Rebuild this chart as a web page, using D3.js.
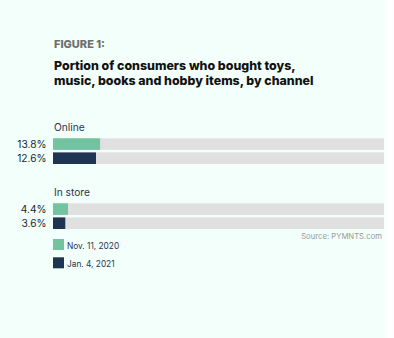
<!DOCTYPE html>
<html>
<head>
<meta charset="utf-8">
<script src="https://cdn.jsdelivr.net/npm/d3@7"></script>
<style>
  html, body { margin: 0; padding: 0; background: #fff; }
  svg { display: block; font-family: Inter, "Open Sans", sans-serif; }
</style>
</head>
<body>
<div id="chart"></div>
<script>
// data
const channels = ["Online", "In store"];
const seriesNames = ["Nov. 11, 2020", "Jan. 4, 2021"];
const nov2020 = [13.8, 4.4];
const jan2021 = [12.6, 3.6];

const W = 394, H = 338;

const svg = d3.select("#chart")
  .append("svg")
  .attr("width", W)
  .attr("height", H);

// mint panel
svg.append("rect")
  .attr("x", 0).attr("y", 0)
  .attr("width", 385).attr("height", H)
  .attr("fill", "#f2fffa");

const color = d3.scaleOrdinal()
  .domain(seriesNames)
  .range(["#72c3a0", "#1f3352"]);

const x = d3.scaleLinear().domain([0, 97]).range([53, 384]);

// group rows
const groupY = d3.scalePoint().domain(channels).range([123, 188]);
const barY = d3.scaleBand().domain(seriesNames).range([15.3, 41]).paddingInner(0.18);

svg.append("text")
  .attr("x", 54).attr("y", 48)
  .attr("fill", "#6f6f6f")
  .attr("font-size", 11)
  .attr("font-weight", 800)
  .text("FIGURE 1:");

svg.append("text")
  .attr("fill", "#111")
  .attr("font-size", 12.4)
  .attr("font-weight", 800)
  .selectAll("tspan")
  .data(["Portion of consumers who bought toys,", "music, books and hobby items, by channel"])
  .join("tspan")
  .attr("x", 54)
  .attr("y", (d, i) => 69.5 + i * 15)
  .text(d => d);

const rows = channels.map((c, i) => ({
  channel: c,
  values: [
    {series: seriesNames[0], value: nov2020[i]},
    {series: seriesNames[1], value: jan2021[i]}
  ]
}));

const grp = svg.selectAll(".grp")
  .data(rows)
  .join("g")
  .attr("class", "grp")
  .attr("transform", d => `translate(0,${groupY(d.channel)})`);

grp.append("text")
  .attr("x", 54).attr("y", 8)
  .attr("fill", "#2a3350")
  .attr("font-size", 10.2)
  .text(d => d.channel);

const bar = grp.selectAll(".bar")
  .data(d => d.values)
  .join("g")
  .attr("class", "bar")
  .attr("transform", d => `translate(0,${barY(d.series)})`);

bar.append("rect")
  .attr("x", x(0))
  .attr("width", x(97) - x(0))
  .attr("height", barY.bandwidth())
  .attr("fill", "#e0e0e0");

bar.append("rect")
  .attr("x", x(0))
  .attr("width", d => x(d.value) - x(0))
  .attr("height", barY.bandwidth())
  .attr("fill", d => color(d.series));

bar.append("text")
  .attr("x", 46.5)
  .attr("y", barY.bandwidth() / 2)
  .attr("dy", "0.36em")
  .attr("text-anchor", "end")
  .attr("fill", "#1a1f33")
  .attr("font-size", 10.2)
  .text(d => d.value.toFixed(1) + "%");

svg.append("text")
  .attr("x", 382).attr("y", 238.5)
  .attr("text-anchor", "end")
  .attr("fill", "#9a9a9a")
  .attr("font-size", 7.7)
  .text("Source: PYMNTS.com");

// legend
const legend = svg.selectAll(".legend")
  .data(seriesNames)
  .join("g")
  .attr("class", "legend")
  .attr("transform", (d, i) => `translate(53,${239 + i * 18.3})`);

legend.append("rect")
  .attr("width", 11).attr("height", 11)
  .attr("fill", d => color(d));

legend.append("text")
  .attr("x", 14).attr("y", 10)
  .attr("fill", "#2a3350")
  .attr("font-size", 8.3)
  .text(d => d);
</script>
</body>
</html>
